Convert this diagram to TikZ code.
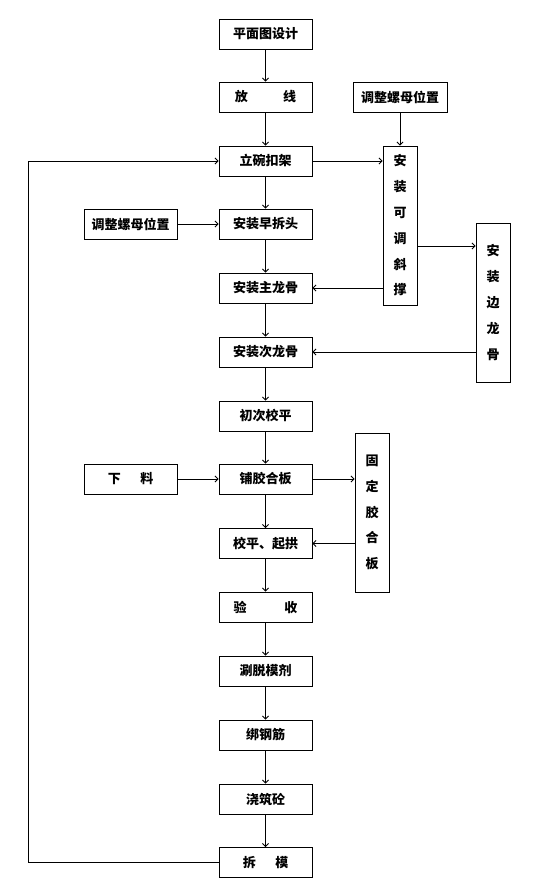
\documentclass[tikz,border=0pt]{standalone}
\usepackage{fontspec}
\newfontfamily\cjk{Noto Sans CJK SC}
\usetikzlibrary{arrows.meta}
\begin{document}
\begin{tikzpicture}[x=1pt,y=-1pt,
  box/.style={draw,line width=0.9pt,minimum width=93pt,minimum height=30pt,inner sep=0pt,font=\cjk\bfseries\fontsize{13pt}{15pt}\selectfont},
  vbox/.style={draw,line width=0.9pt,minimum width=34pt,minimum height=159pt,inner sep=0pt,align=center,font=\cjk\bfseries\fontsize{13pt}{25.8pt}\selectfont},
  arr/.style={line width=0.8pt,-{Straight Barb[length=3pt,width=6pt]}},
  ln/.style={line width=0.8pt}]
\useasboundingbox (0,0) rectangle (540,888);
% main column
\node[box] (p1) at (265.5,34) {平面图设计};
\node[box] (p2) at (265.5,97) {放\hspace{2.7em}线};
\node[box] (p3) at (265.5,161) {立碗扣架};
\node[box] (p4) at (265.5,224) {安装早拆头};
\node[box] (p5) at (265.5,288) {安装主龙骨};
\node[box] (p6) at (265.5,352) {安装次龙骨};
\node[box] (p7) at (265.5,416) {初次校平};
\node[box] (p8) at (265.5,479) {铺胶合板};
\node[box] (p9) at (265.5,543.5) {校平、起拱};
\node[box] (p10) at (265.5,607) {验\hspace{2.9em}收};
\node[box] (p11) at (265.5,671) {涮脱模剂};
\node[box] (p12) at (265.5,735) {绑钢筋};
\node[box] (p13) at (265.5,799) {浇筑砼};
\node[box] (p14) at (265.5,862.5) {拆\hspace{1.5em}模};
% side boxes
\node[box,minimum width=94pt] (s1) at (400,97) {调整螺母位置};
\node[box] (s2) at (130.5,224) {调整螺母位置};
\node[box] (s3) at (130.5,479) {下\hspace{1.5em}料};
\node[vbox] (v1) at (400,225.5) {安\\装\\可\\调\\斜\\撑};
\node[vbox] (v2) at (493,302.5) {安\\装\\边\\龙\\骨};
\node[vbox] (v3) at (372,512.5) {固\\定\\胶\\合\\板};
\coordinate (k1) at (0,246);
\coordinate (lp) at (28,0);
% main flow
\foreach \a/\b in {p1/p2,p2/p3,p3/p4,p4/p5,p5/p6,p6/p7,p7/p8,p8/p9,p9/p10,p10/p11,p11/p12,p12/p13,p13/p14}
  \draw[arr] (\a.south) -- (\b.north);
% side connections
\draw[arr] (s1.south) -- (v1.north);
\draw[arr] (p3.east) -- (v1.west |- p3.east);
\draw[arr] (s2.east) -- (p4.west);
\draw[arr] (v1.west |- p5.east) -- (p5.east);
\draw[arr] (v1.east |- k1) -- (v2.west |- k1);
\draw[arr] (v2.west |- p6.east) -- (p6.east);
\draw[arr] (s3.east) -- (p8.west);
\draw[arr] (p8.east) -- (v3.west |- p8.east);
\draw[arr] (v3.west |- p9.east) -- (p9.east);
% loop back
\draw[arr] (p14.west) -- (lp |- p14.west) -- (lp |- p3.west) -- (p3.west);
\end{tikzpicture}
\end{document}
